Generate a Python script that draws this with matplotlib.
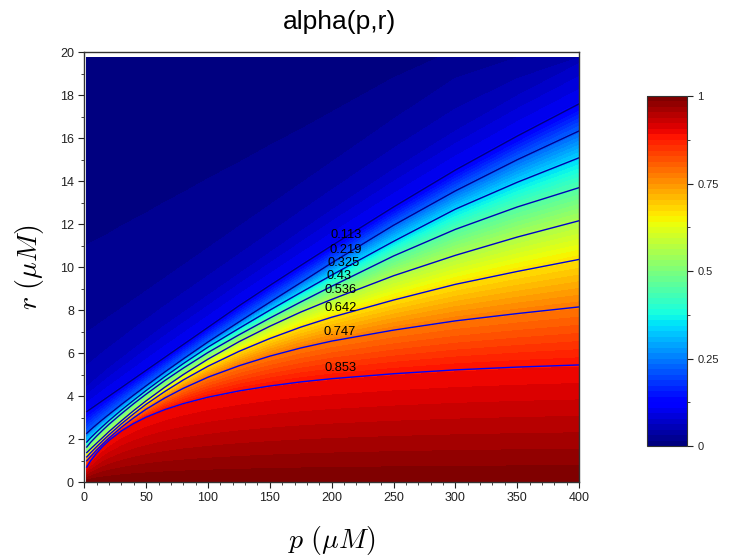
import matplotlib
matplotlib.use("Agg")
import matplotlib.pyplot as plt
import numpy as np
from matplotlib import colors, colorbar
from matplotlib.ticker import MultipleLocator

plt.rcParams["font.family"] = ["Liberation Sans", "DejaVu Sans"]
plt.rcParams["mathtext.fontset"] = "cm"

# p (uM) donde se leyeron las curvas de nivel
p_vals = [2, 5, 10, 15, 20, 30, 40, 50, 65, 80, 100, 125, 150, 175, 200,
          250, 300, 350, 400]

# niveles de contorno rotulados
niveles = [0.113, 0.219, 0.325, 0.43, 0.536, 0.642, 0.747, 0.853]

# r (uM) de cada nivel en p_vals
r_0853 = [0.7, 0.98, 1.35, 1.67, 1.94, 2.38, 2.73, 3.02, 3.37, 3.65, 3.95,
          4.24, 4.47, 4.66, 4.81, 5.04, 5.22, 5.35, 5.45]
r_0747 = [0.99, 1.18, 1.49, 1.78, 2.05, 2.55, 2.99, 3.39, 3.91, 4.36, 4.88,
          5.41, 5.86, 6.24, 6.56, 7.07, 7.5, 7.84, 8.15]
r_0642 = [1.17, 1.36, 1.65, 1.93, 2.2, 2.71, 3.18, 3.62, 4.21, 4.75, 5.39,
          6.08, 6.68, 7.21, 7.67, 8.47, 9.2, 9.8, 10.36]
r_0536 = [1.37, 1.54, 1.81, 2.08, 2.35, 2.85, 3.33, 3.78, 4.41, 5.0, 5.72,
          6.53, 7.25, 7.91, 8.5, 9.6, 10.55, 11.4, 12.16]
r_043 = [1.63, 1.84, 2.14, 2.42, 2.69, 3.18, 3.65, 4.09, 4.72, 5.3, 6.03,
         6.85, 7.63, 8.38, 9.11, 10.52, 11.76, 12.8, 13.7]
r_0325 = [1.86, 2.05, 2.33, 2.6, 2.86, 3.35, 3.81, 4.26, 4.9, 5.51, 6.28,
          7.15, 8.0, 8.82, 9.63, 11.2, 12.7, 13.95, 15.09]
r_0219 = [2.27, 2.43, 2.68, 2.92, 3.15, 3.61, 4.05, 4.48, 5.12, 5.73, 6.52,
          7.45, 8.37, 9.28, 10.2, 11.95, 13.55, 15.0, 16.34]
r_0113 = [3.28, 3.4, 3.6, 3.8, 4.0, 4.4, 4.8, 5.2, 5.8, 6.4, 7.2, 8.2,
          9.15, 10.08, 11.0, 12.8, 14.52, 16.1, 17.6]

# franjas tenues de la zona azul oscura (sin rotulo)
r_006 = [4.6, 4.75, 5.0, 5.25, 5.5, 5.95, 6.4, 6.85, 7.5, 8.1, 8.9, 9.9,
         10.9, 11.9, 12.9, 14.8, 16.6, 18.25, 19.75]
r_0037 = [7.0, 7.1, 7.3, 7.5, 7.7, 8.1, 8.5, 8.9, 9.5, 10.1, 10.9, 11.9,
          12.9, 13.9, 14.9, 16.9, 18.8, 19.75, 19.75]
r_0022 = [11.0, 11.1, 11.25, 11.4, 11.55, 11.9, 12.2, 12.5, 13.0, 13.45,
          14.1, 14.85, 15.65, 16.4, 17.2, 18.8, 19.75, 19.75, 19.75]

# valores en los bordes r=0 y r=19.75
alpha_base = [0.959] * len(p_vals)
alpha_techo = [0.0074, 0.0075, 0.0077, 0.0079, 0.0081, 0.0085, 0.0089,
               0.0093, 0.0099, 0.0105, 0.0113, 0.0123, 0.0135, 0.0148,
               0.016, 0.019, 0.0235, 0.04, 0.06]
r_techo = 19.75

curvas = [r_0853, r_0747, r_0642, r_0536, r_043, r_0325, r_0219, r_0113]
n = len(p_vals)

# malla curvilinea: cada fila es una curva de nivel
filas_r = [[0.0] * n] + curvas + [r_006, r_0037, r_0022, [r_techo] * n]
filas_z = ([alpha_base] + [[v] * n for v in niveles[::-1]]
           + [[0.06] * n, [0.037] * n, [0.0223] * n, alpha_techo])
P = np.tile(np.array(p_vals, dtype=float), (len(filas_r), 1))
R = np.array(filas_r)
Z = np.array(filas_z)

cmap64 = plt.get_cmap("jet", 64)

fig = plt.figure(figsize=(7.33, 5.56), dpi=100)
ax = fig.add_axes([0.115, 0.133, 0.675, 0.773])

ax.contourf(P, R, Z, levels=np.linspace(0.0074, 0.959, 65), cmap=cmap64,
            extend="both")

colores_lineas = plt.cm.jet(np.linspace(0.0, 0.11, 8))
for curva, c in zip(curvas, colores_lineas[::-1]):
    ax.plot(p_vals, curva, color=c, lw=1.0)

# rotulos de las curvas
rotulos_p = [199, 198, 197, 196, 194, 194, 193, 194]
rotulos_r = [11.5, 10.78, 10.18, 9.6, 8.92, 8.09, 6.96, 5.31]
for nivel, xp, yr in zip(niveles, rotulos_p, rotulos_r):
    ax.text(xp, yr, str(nivel), fontsize=9.3, va="center", ha="left",
            color="black")

ax.set_xlim(0, 400)
ax.set_ylim(0, 20)
ax.xaxis.set_major_locator(MultipleLocator(50))
ax.xaxis.set_minor_locator(MultipleLocator(10))
ax.yaxis.set_major_locator(MultipleLocator(2))
ax.yaxis.set_minor_locator(MultipleLocator(1))
ax.tick_params(which="both", direction="out", labelsize=9, colors="#222222")
ax.tick_params(which="major", length=4)
ax.tick_params(which="minor", length=2.5)
for s in ax.spines.values():
    s.set_color("#333333")
    s.set_linewidth(1.0)

fig.text(340 / 733, 1 - 22 / 556, "alpha(p,r)", fontsize=19,
         ha="center", va="center")
ax.set_xlabel(r"$p\ (\mu M)$", fontsize=20, labelpad=14)
ax.set_ylabel(r"$r\ (\mu M)$", fontsize=20, labelpad=10)

cax = fig.add_axes([0.8827, 0.1978, 0.0546, 0.6295])
cb = colorbar.ColorbarBase(cax, cmap=cmap64, norm=colors.Normalize(0, 1))
cb.set_ticks([0, 0.25, 0.5, 0.75, 1])
cb.set_ticklabels(["0", "0.25", "0.5", "0.75", "1"])
cax.yaxis.set_minor_locator(MultipleLocator(0.125))
cax.tick_params(which="both", direction="out", labelsize=8, colors="#222222")
cax.tick_params(which="major", length=4)
cax.tick_params(which="minor", length=2.5)
cb.outline.set_edgecolor("#333333")

fig.savefig("out.png", dpi=100)
